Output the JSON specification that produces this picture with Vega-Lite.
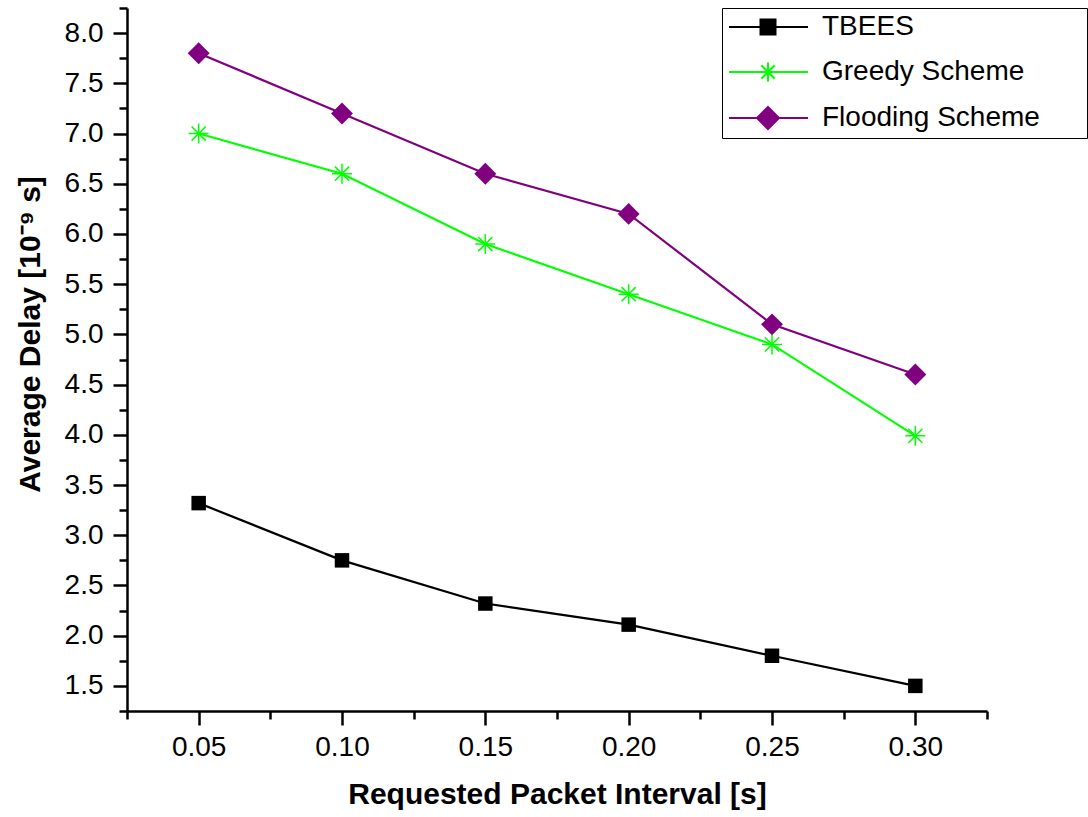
{
  "$schema": "https://vega.github.io/schema/vega-lite/v6.json",
  "width": 860,
  "height": 703,
  "autosize": {"type": "none"},
  "padding": {"left": 127, "top": 8, "right": 101, "bottom": 106},
  "background": "white",
  "config": {
    "view": {"stroke": null},
    "font": "Liberation Sans",
    "axis": {
      "labelFont": "Liberation Sans",
      "labelFontSize": 28,
      "labelColor": "#000000",
      "titleFont": "Liberation Sans",
      "titleFontSize": 30,
      "titleFontWeight": "bold",
      "titleColor": "#000000",
      "domainColor": "#000000",
      "domainWidth": 2.5,
      "tickColor": "#000000",
      "tickWidth": 2.5,
      "grid": false
    }
  },
  "data": {
    "values": [
      {"x": 0.05, "y": 3.32, "series": "TBEES"},
      {"x": 0.10, "y": 2.75, "series": "TBEES"},
      {"x": 0.15, "y": 2.32, "series": "TBEES"},
      {"x": 0.20, "y": 2.11, "series": "TBEES"},
      {"x": 0.25, "y": 1.80, "series": "TBEES"},
      {"x": 0.30, "y": 1.50, "series": "TBEES"},
      {"x": 0.05, "y": 7.0, "series": "Greedy Scheme"},
      {"x": 0.10, "y": 6.6, "series": "Greedy Scheme"},
      {"x": 0.15, "y": 5.9, "series": "Greedy Scheme"},
      {"x": 0.20, "y": 5.4, "series": "Greedy Scheme"},
      {"x": 0.25, "y": 4.9, "series": "Greedy Scheme"},
      {"x": 0.30, "y": 3.99, "series": "Greedy Scheme"},
      {"x": 0.05, "y": 7.8, "series": "Flooding Scheme"},
      {"x": 0.10, "y": 7.2, "series": "Flooding Scheme"},
      {"x": 0.15, "y": 6.6, "series": "Flooding Scheme"},
      {"x": 0.20, "y": 6.2, "series": "Flooding Scheme"},
      {"x": 0.25, "y": 5.1, "series": "Flooding Scheme"},
      {"x": 0.30, "y": 4.6, "series": "Flooding Scheme"}
    ]
  },
  "resolve": {"axis": {"x": "independent", "y": "independent"}},
  "layer": [
    {
      "transform": [{"filter": "datum.series === 'TBEES'"}],
      "mark": {"type": "line", "strokeWidth": 2.2, "color": "#000000"},
      "encoding": {
        "x": {
          "field": "x", "type": "quantitative",
          "scale": {"domain": [0.025, 0.325], "nice": false, "zero": false},
          "axis": {
            "orient": "bottom",
            "title": "Requested Packet Interval [s]",
            "values": [0.05, 0.10, 0.15, 0.20, 0.25, 0.30],
            "format": ".2f",
            "labelFontSize": 28,
            "titleFontSize": 30,
            "tickSize": 14,
            "labelPadding": 8,
            "titlePadding": 18
          }
        },
        "y": {
          "field": "y", "type": "quantitative",
          "scale": {"domain": [1.25, 8.25], "nice": false, "zero": false},
          "axis": {
            "orient": "left",
            "title": "Average Delay [10⁻⁹ s]",
            "values": [1.5, 2.0, 2.5, 3.0, 3.5, 4.0, 4.5, 5.0, 5.5, 6.0, 6.5, 7.0, 7.5, 8.0],
            "format": ".1f",
            "labelFontSize": 28,
            "titleFontSize": 30,
            "tickSize": 14,
            "labelPadding": 10,
            "titlePadding": 19,
            "titleY": 326
          }
        }
      }
    },
    {
      "transform": [{"filter": "datum.series === 'Greedy Scheme'"}],
      "mark": {"type": "line", "strokeWidth": 2.2, "color": "#00FF00"},
      "encoding": {
        "x": {"field": "x", "type": "quantitative", "axis": null},
        "y": {"field": "y", "type": "quantitative", "axis": null}
      }
    },
    {
      "transform": [{"filter": "datum.series === 'Flooding Scheme'"}],
      "mark": {"type": "line", "strokeWidth": 2.2, "color": "#800080"},
      "encoding": {
        "x": {"field": "x", "type": "quantitative", "axis": null},
        "y": {"field": "y", "type": "quantitative", "axis": null}
      }
    },
    {
      "transform": [{"filter": "datum.series === 'TBEES'"}],
      "mark": {"type": "point", "shape": "square", "size": 210, "filled": true, "color": "#000000", "opacity": 1},
      "encoding": {
        "x": {"field": "x", "type": "quantitative", "axis": null},
        "y": {"field": "y", "type": "quantitative", "axis": null}
      }
    },
    {
      "transform": [{"filter": "datum.series === 'Greedy Scheme'"}],
      "mark": {"type": "point", "shape": "M0,-1L0,1M-1,0L1,0M-0.71,-0.71L0.71,0.71M-0.71,0.71L0.71,-0.71", "size": 400, "filled": false, "stroke": "#00FF00", "strokeWidth": 1.5, "opacity": 1},
      "encoding": {
        "x": {"field": "x", "type": "quantitative", "axis": null},
        "y": {"field": "y", "type": "quantitative", "axis": null}
      }
    },
    {
      "transform": [{"filter": "datum.series === 'Flooding Scheme'"}],
      "mark": {"type": "point", "shape": "diamond", "size": 480, "filled": true, "color": "#800080", "opacity": 1},
      "encoding": {
        "x": {"field": "x", "type": "quantitative", "axis": null},
        "y": {"field": "y", "type": "quantitative", "axis": null}
      }
    },
    {
      "mark": {"type": "point", "opacity": 0, "size": 400, "strokeWidth": 2},
      "encoding": {
        "x": {"field": "x", "type": "quantitative", "axis": null},
        "y": {"field": "y", "type": "quantitative", "axis": null},
        "fill": {
          "field": "series", "type": "nominal",
          "scale": {"domain": ["TBEES", "Greedy Scheme", "Flooding Scheme"], "range": ["#000000", "#00FF00", "#800080"]},
          "legend": {
            "title": null,
            "orient": "none",
            "legendX": 595,
            "legendY": 0,
            "strokeColor": "#000000",
            "fillColor": "#ffffff",
            "padding": 5,
            "rowPadding": 17,
            "symbolSize": 400,
            "symbolOpacity": 1,
            "symbolStrokeWidth": 2,
            "labelOffset": 67,
            "labelFont": "Liberation Sans",
            "labelFontSize": 28,
            "labelColor": "#000000",
            "labelLimit": 400,
            "labelExpr": "datum.label + '\u2800\u2800'"
          }
        },
        "stroke": {
          "field": "series", "type": "nominal",
          "scale": {"domain": ["TBEES", "Greedy Scheme", "Flooding Scheme"], "range": ["#000000", "#00FF00", "#800080"]},
          "legend": {
            "title": null,
            "orient": "none",
            "legendX": 595,
            "legendY": 0,
            "strokeColor": "#000000",
            "fillColor": "#ffffff",
            "padding": 5,
            "rowPadding": 17,
            "symbolSize": 400,
            "symbolOpacity": 1,
            "symbolStrokeWidth": 2,
            "labelOffset": 67,
            "labelFont": "Liberation Sans",
            "labelFontSize": 28,
            "labelColor": "#000000",
            "labelLimit": 400,
            "labelExpr": "datum.label + '\u2800\u2800'"
          }
        },
        "shape": {
          "field": "series", "type": "nominal",
          "scale": {"domain": ["TBEES", "Greedy Scheme", "Flooding Scheme"], "range": [
            "M-1.2,0L6.7,0M1.95,-0.75L3.45,-0.75L3.45,0.75L1.95,0.75Z",
            "M-1.2,0L6.7,0M2.7,-0.95L2.7,0.95M2.03,-0.67L3.37,0.67M2.03,0.67L3.37,-0.67",
            "M-1.2,0L6.7,0M2.7,-1.1L3.8,0L2.7,1.1L1.6,0Z"
          ]},
          "legend": {
            "title": null,
            "orient": "none",
            "legendX": 595,
            "legendY": 0,
            "strokeColor": "#000000",
            "fillColor": "#ffffff",
            "padding": 5,
            "rowPadding": 17,
            "symbolSize": 400,
            "symbolOpacity": 1,
            "symbolStrokeWidth": 2,
            "labelOffset": 67,
            "labelFont": "Liberation Sans",
            "labelFontSize": 28,
            "labelColor": "#000000",
            "labelLimit": 400,
            "labelExpr": "datum.label + '\u2800\u2800'"
          }
        }
      }
    },
    {
      "mark": {"type": "tick", "opacity": 0},
      "data": {"values": [{"mx": 0.025}]},
      "encoding": {
        "x": {
          "field": "mx", "type": "quantitative",
          "scale": {"domain": [0.025, 0.325], "nice": false, "zero": false},
          "axis": {
            "orient": "bottom",
            "title": null,
            "values": [0.025, 0.075, 0.125, 0.175, 0.225, 0.275, 0.325],
            "labels": false,
            "domain": false,
            "tickSize": 8
          }
        }
      }
    },
    {
      "mark": {"type": "tick", "opacity": 0},
      "data": {"values": [{"my": 1.25}]},
      "encoding": {
        "y": {
          "field": "my", "type": "quantitative",
          "scale": {"domain": [1.25, 8.25], "nice": false, "zero": false},
          "axis": {
            "orient": "left",
            "title": null,
            "values": [1.25, 1.75, 2.25, 2.75, 3.25, 3.75, 4.25, 4.75, 5.25, 5.75, 6.25, 6.75, 7.25, 7.75, 8.25],
            "labels": false,
            "domain": false,
            "tickSize": 8
          }
        }
      }
    }
  ]
}
